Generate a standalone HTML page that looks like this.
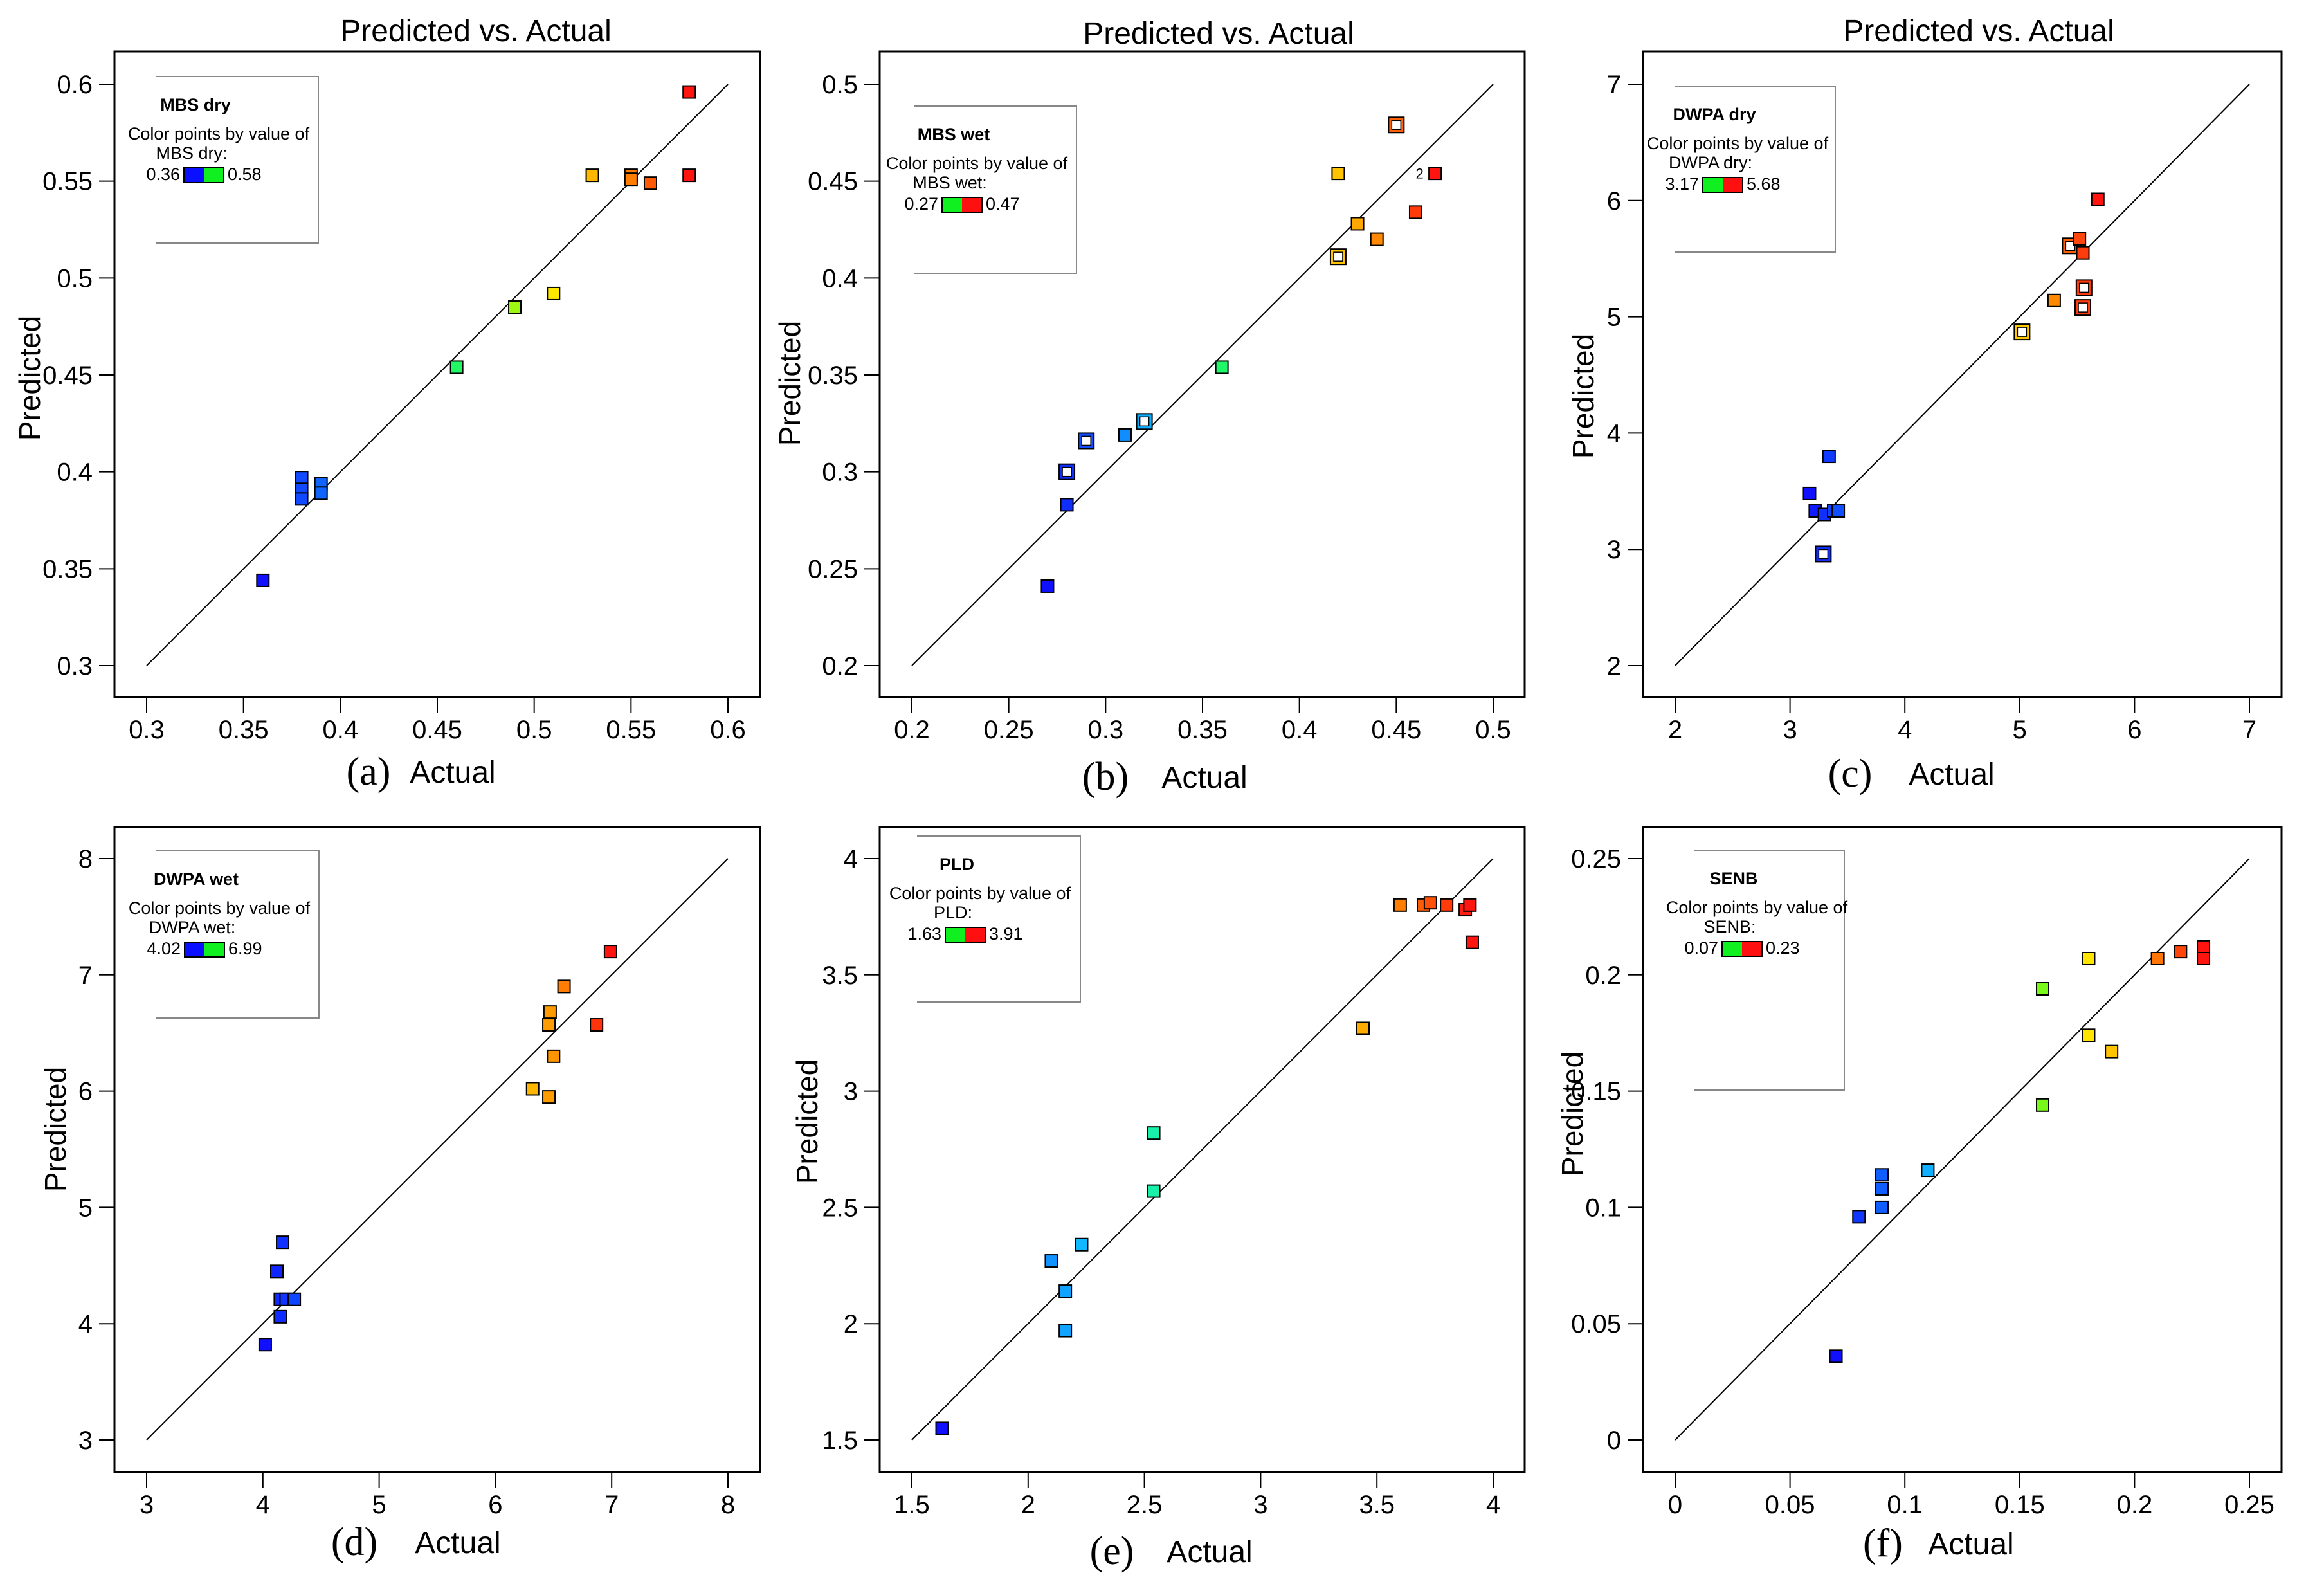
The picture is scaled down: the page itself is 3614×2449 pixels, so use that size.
<!DOCTYPE html>
<html><head><meta charset="utf-8"><style>
html,body{margin:0;padding:0;background:#fff;}
svg{display:block;font-family:"Liberation Sans","DejaVu Sans",sans-serif;}
</style></head><body>
<svg id="fig" width="3614" height="2449" viewBox="0 0 3614 2449" xmlns="http://www.w3.org/2000/svg"></svg>
<script>
// ---- data ----
const aActual=[0.36,0.38,0.38,0.38,0.39,0.39,0.46,0.49,0.51,0.53,0.55,0.55,0.56,0.58,0.58];
const aPred  =[0.344,0.397,0.391,0.386,0.394,0.389,0.454,0.485,0.492,0.553,0.553,0.551,0.549,0.596,0.553];
const aHollow=[0,0,0,0,0,0,0,0,0,0,0,0,0,0,0];
const aTicks=[0.3,0.35,0.4,0.45,0.5,0.55,0.6];
const aTickLabels=["0.3","0.35","0.4","0.45","0.5","0.55","0.6"];

const bActual=[0.27,0.28,0.28,0.29,0.31,0.32,0.36,0.42,0.42,0.43,0.44,0.45,0.46,0.47];
const bPred  =[0.241,0.283,0.300,0.316,0.319,0.326,0.354,0.454,0.411,0.428,0.420,0.479,0.434,0.454];
const bHollow=[0,0,1,1,0,1,0,0,1,0,0,1,0,0];
const bTicks=[0.2,0.25,0.3,0.35,0.4,0.45,0.5];
const bTickLabels=["0.2","0.25","0.3","0.35","0.4","0.45","0.5"];

const cActual=[3.17,3.22,3.30,3.38,3.42,3.34,3.29,5.02,5.30,5.44,5.52,5.55,5.56,5.55,5.68];
const cPred  =[3.48,3.33,3.30,3.33,3.33,3.80,2.96,4.87,5.14,5.61,5.67,5.55,5.25,5.08,6.01];
const cHollow=[0,0,0,0,0,0,1,1,0,1,0,0,1,1,0];
const cTicks=[2,3,4,5,6,7];
const cTickLabels=["2","3","4","5","6","7"];

const dActual=[4.02,4.15,4.15,4.20,4.27,4.12,4.17,6.32,6.46,6.50,6.46,6.47,6.59,6.87,6.99];
const dPred  =[3.82,4.06,4.21,4.21,4.21,4.45,4.70,6.02,5.95,6.30,6.57,6.68,6.90,6.57,7.20];
const dHollow=[0,0,0,0,0,0,0,0,0,0,0,0,0,0,0];
const dTicks=[3,4,5,6,7,8];
const dTickLabels=["3","4","5","6","7","8"];

const eActual=[1.63,2.10,2.16,2.16,2.23,2.54,2.54,3.44,3.60,3.70,3.73,3.80,3.88,3.90,3.91];
const ePred  =[1.55,2.27,2.14,1.97,2.34,2.82,2.57,3.27,3.80,3.80,3.81,3.80,3.78,3.80,3.64];
const eHollow=[0,0,0,0,0,0,0,0,0,0,0,0,0,0,0];
const eTicks=[1.5,2,2.5,3,3.5,4];
const eTickLabels=["1.5","2","2.5","3","3.5","4"];

const fActual=[0.07,0.08,0.09,0.09,0.09,0.11,0.16,0.16,0.18,0.18,0.19,0.21,0.22,0.23,0.23];
const fPred  =[0.036,0.096,0.100,0.108,0.114,0.116,0.144,0.194,0.207,0.174,0.167,0.207,0.210,0.212,0.207];
const fHollow=[0,0,0,0,0,0,0,0,0,0,0,0,0,0,0];
const fTicks=[0,0.05,0.1,0.15,0.2,0.25];
const fTickLabels=["0","0.05","0.1","0.15","0.2","0.25"];

const panels=[
 {id:"a",act:aActual,pred:aPred,hol:aHollow,ticks:aTicks,labels:aTickLabels,box:[178,80,1182,1084],px:[228,1132],py:[1035,131],title:true,titleX:740,titleY:64,
  ytX:46,ytY:588,lblX:573,actX:704,botY:1200,leg:[242,119,495,378],legName:"MBS dry",legMin:"0.36",legMax:"0.58",c1:"#0a10ff",c2:"#10f020",badge:-1},
 {id:"b",act:bActual,pred:bPred,hol:bHollow,ticks:bTicks,labels:bTickLabels,box:[1368,80,2371,1084],px:[1418,2322],py:[1035,131],title:true,titleX:1895,titleY:68,
  ytX:1228,ytY:596,lblX:1719,actX:1873,botY:1208,leg:[1421,165,1674,425],legName:"MBS wet",legMin:"0.27",legMax:"0.47",c1:"#10f020",c2:"#ff1010",badge:13},
 {id:"c",act:cActual,pred:cPred,hol:cHollow,ticks:cTicks,labels:cTickLabels,box:[2555,80,3548,1084],px:[2605,3498],py:[1035,131],title:true,titleX:3077,titleY:64,
  ytX:2462,ytY:616,lblX:2877,actX:3035,botY:1203,leg:[2604,134,2854,392],legName:"DWPA dry",legMin:"3.17",legMax:"5.68",c1:"#10f020",c2:"#ff1010",badge:-1},
 {id:"d",act:dActual,pred:dPred,hol:dHollow,ticks:dTicks,labels:dTickLabels,box:[178,1286,1182,2289],px:[228,1132],py:[2239,1335],title:false,
  ytX:86,ytY:1756,lblX:551,actX:712,botY:2398,leg:[243,1323,496,1583],legName:"DWPA wet",legMin:"4.02",legMax:"6.99",c1:"#0a10ff",c2:"#10f020",badge:-1},
 {id:"e",act:eActual,pred:ePred,hol:eHollow,ticks:eTicks,labels:eTickLabels,box:[1368,1286,2371,2289],px:[1418,2322],py:[2239,1335],title:false,
  ytX:1255,ytY:1744,lblX:1729,actX:1881,botY:2412,leg:[1426,1300,1680,1558],legName:"PLD",legMin:"1.63",legMax:"3.91",c1:"#10f020",c2:"#ff1010",badge:-1},
 {id:"f",act:fActual,pred:fPred,hol:fHollow,ticks:fTicks,labels:fTickLabels,box:[2555,1286,3548,2289],px:[2605,3498],py:[2239,1335],title:false,
  ytX:2445,ytY:1732,lblX:2928,actX:3065,botY:2400,leg:[2634,1322,2868,1695],legName:"SENB",legMin:"0.07",legMax:"0.23",c1:"#10f020",c2:"#ff1010",badge:-1}
];

const NS="http://www.w3.org/2000/svg";
const svg=document.getElementById("fig");
function mk(tag,attrs,parent,text){
  const e=document.createElementNS(NS,tag);
  for(const k in attrs) e.setAttribute(k,attrs[k]);
  if(text!==undefined) e.textContent=text;
  (parent||svg).appendChild(e);
  return e;
}
function cmap(t){
  const stops=[[16,16,255],[16,120,255],[16,230,255],[40,255,40],[255,240,0],[255,150,0],[255,20,16]];
  t=Math.max(0,Math.min(1,t))*(stops.length-1);
  const i=Math.min(Math.floor(t),stops.length-2), f=t-i;
  const c=stops[i].map((v,k)=>Math.round(v+(stops[i+1][k]-v)*f));
  return "rgb("+c.join(",")+")";
}

panels.forEach(p=>{
  const g=mk("g",{});
  
  
  const t0=p.ticks[0], t1=p.ticks[p.ticks.length-1];
  const sx=v=>p.px[0]+(v-t0)/(t1-t0)*(p.px[1]-p.px[0]);
  const sy=v=>p.py[0]+(v-t0)/(t1-t0)*(p.py[1]-p.py[0]);
  const [L,T,R,B]=p.box;
  if(p.title){
    const tt=mk("text",{x:p.titleX,y:p.titleY,"font-size":48,"text-anchor":"middle",fill:"#000"},g,"Predicted vs. Actual");
    
    
  }
  const frame=mk("rect",{x:L,y:T,width:R-L,height:B-T,fill:"none",stroke:"#000","stroke-width":3},g);
  
  
  p.ticks.forEach((v,i)=>{
    const x=sx(v), y=sy(v);
    mk("line",{x1:x,y1:B,x2:x,y2:B+24,stroke:"#000","stroke-width":2},g);
    const xl=mk("text",{x:x,y:B+64,"font-size":40,"text-anchor":"middle"},g,p.labels[i]);
    
    
    mk("line",{x1:L-24,y1:y,x2:L,y2:y,stroke:"#000","stroke-width":2},g);
    const yl=mk("text",{x:L-34,y:y+14,"font-size":40,"text-anchor":"end"},g,p.labels[i]);
    
    
  });
  const dl=mk("line",{x1:sx(t0),y1:sy(t0),x2:sx(t1),y2:sy(t1),stroke:"#000","stroke-width":2},g);
  
  
  const [lx,ly,rx,ry]=p.leg;
  mk("polyline",{points:`${lx},${ly} ${rx},${ly} ${rx},${ry} ${lx},${ry}`,fill:"none",stroke:"#888","stroke-width":2},g);
  const lg=mk("g",{},g);
  
  
  mk("text",{x:lx+62,y:ly+53,"font-size":27,"font-weight":"bold","text-anchor":"middle"},lg,p.legName);
  mk("text",{x:lx+98,y:ly+98,"font-size":27,"text-anchor":"middle"},lg,"Color points by value of");
  mk("text",{x:lx+56,y:ly+128,"font-size":27,"text-anchor":"middle"},lg,p.legName+":");
  mk("rect",{x:lx+44,y:ly+142,width:31,height:23,fill:p.c1},lg);
  mk("rect",{x:lx+75,y:ly+142,width:31,height:23,fill:p.c2},lg);
  mk("rect",{x:lx+44,y:ly+142,width:62,height:23,fill:"none",stroke:"#000","stroke-width":2},lg);
  mk("text",{x:lx+38,y:ly+161,"font-size":27,"text-anchor":"end"},lg,p.legMin);
  mk("text",{x:lx+112,y:ly+161,"font-size":27},lg,p.legMax);
  const mn=Math.min(...p.act), mx=Math.max(...p.act);
  p.act.forEach((a,i)=>{
    const x=sx(a), y=sy(p.pred[i]);
    const col=cmap((a-mn)/(mx-mn));
    if(p.hol[i]){
      const r=mk("rect",{x:x-12,y:y-12,width:24,height:24,fill:col,stroke:"#000","stroke-width":2},g);
      
      
      mk("rect",{x:x-7,y:y-7,width:14,height:14,fill:"#fff",stroke:"#000","stroke-width":1.5},g);
    } else {
      const r=mk("rect",{x:x-9.5,y:y-9.5,width:19,height:19,fill:col,stroke:"#000","stroke-width":2},g);
      
      
    }
    if(i===p.badge) mk("text",{x:x-24,y:y+8,"font-size":22,"text-anchor":"middle"},g,"2");
  });
  const yt=mk("text",{x:p.ytX,y:p.ytY,"font-size":46,"text-anchor":"middle",transform:`rotate(-90 ${p.ytX} ${p.ytY})`,dy:16},g,"Predicted");
  
  
  const lb=mk("text",{x:p.lblX,y:p.botY+20,"font-size":62,"text-anchor":"middle","font-family":"Liberation Serif, serif"},g,"("+p.id+")");
  
  
  const xt=mk("text",{x:p.actX,y:p.botY+17,"font-size":48,"text-anchor":"middle"},g,"Actual");
  
  
});
</script>
</body></html>
